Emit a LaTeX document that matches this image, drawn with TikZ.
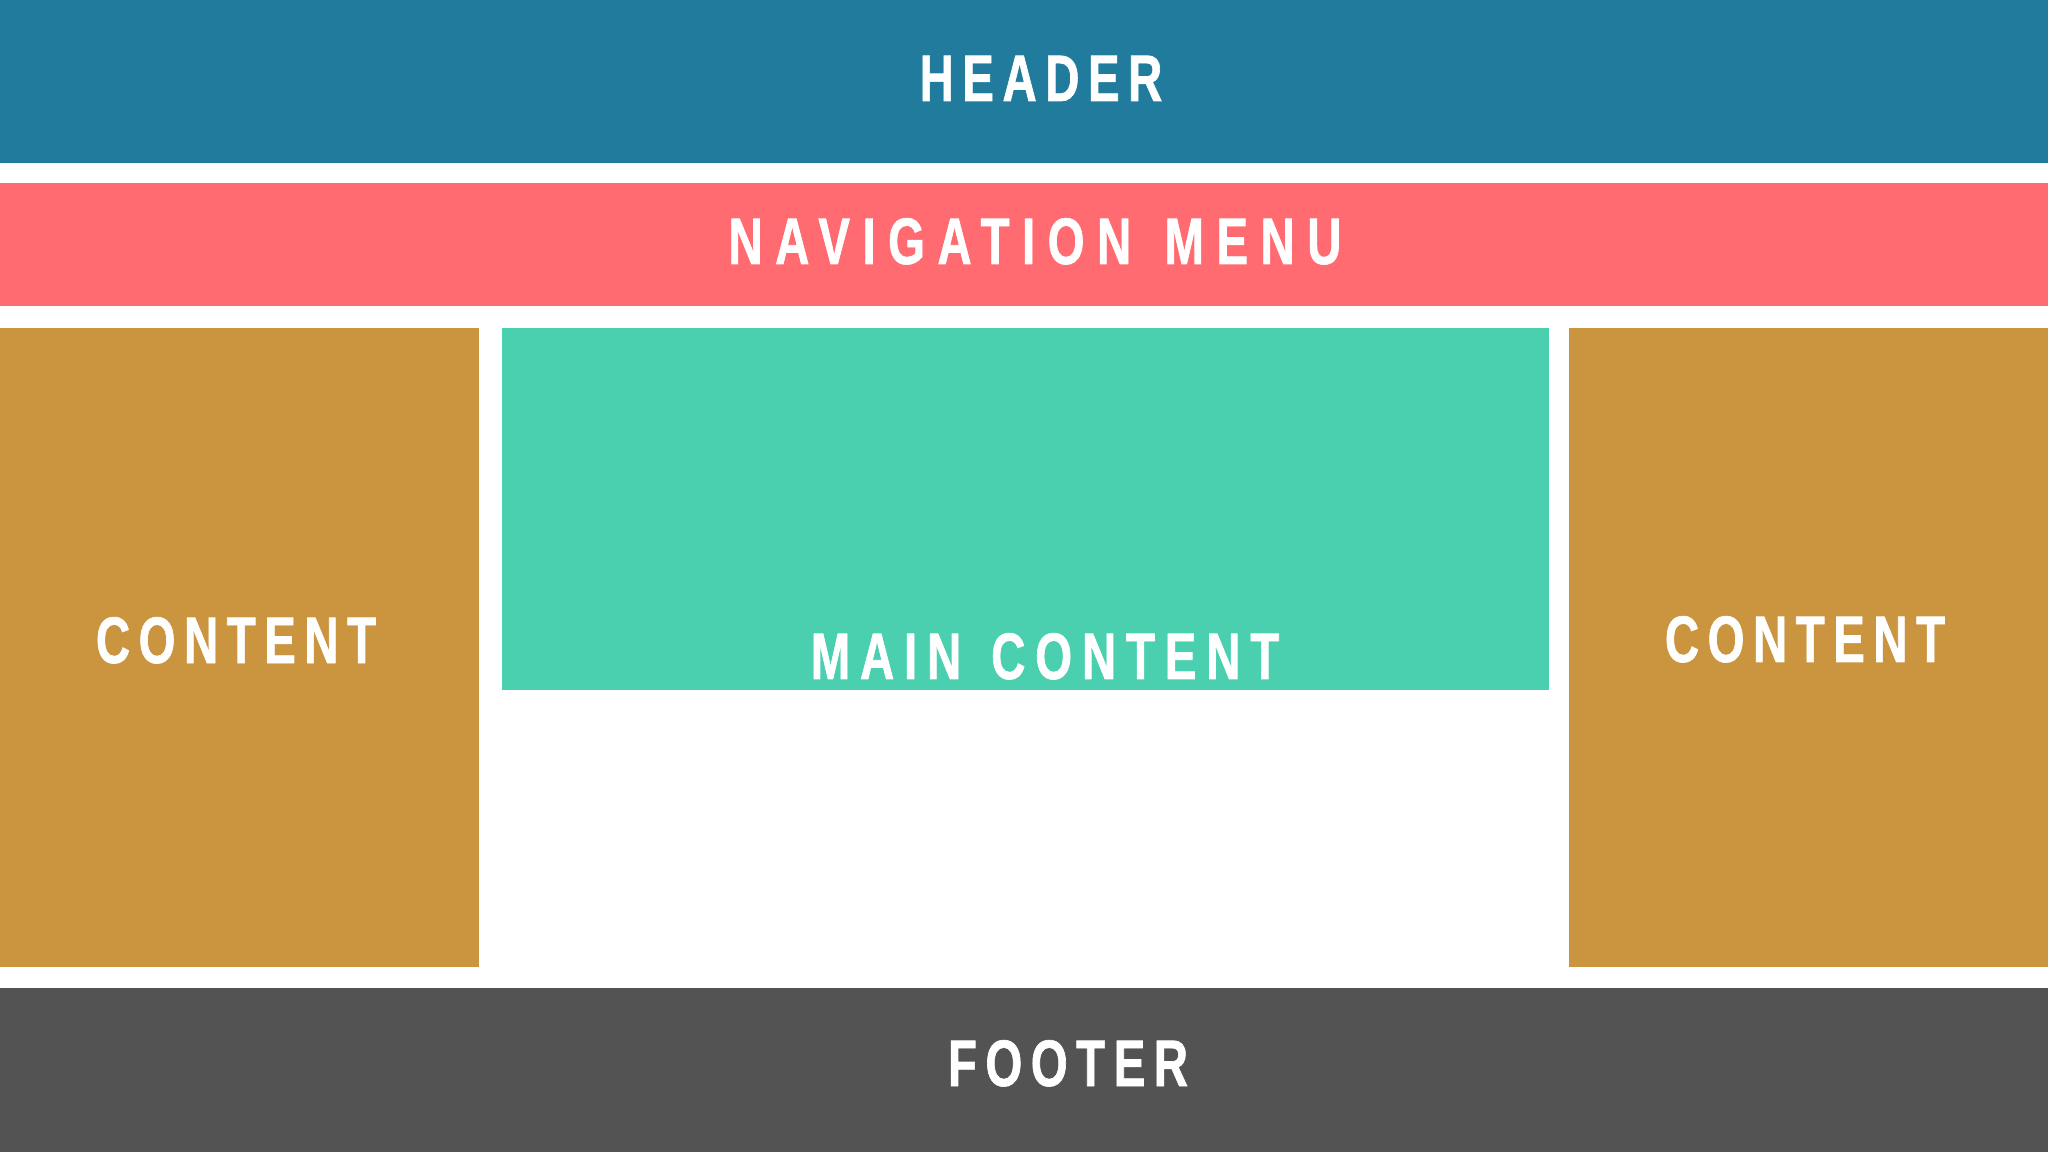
\documentclass[tikz,border=0pt]{standalone}
\usepackage{fontspec}
\usepackage{xcolor}
\newfontfamily\layoutfont{Liberation Sans}[FakeStretch=0.72,LetterSpace=13,WordSpace=1.3,FakeBold=1]
\definecolor{headerblue}{HTML}{217B9D}
\definecolor{navred}{HTML}{FF6B70}
\definecolor{sidegold}{HTML}{CB943F}
\definecolor{mainteal}{HTML}{4ACFAF}
\definecolor{footergray}{HTML}{535353}
\tikzset{
  block/.style={rectangle,inner sep=0,outer sep=0,anchor=north west},
  title/.style={text=white,inner sep=0,anchor=base,font=\layoutfont\bfseries\fontsize{18.7}{20}\selectfont}
}

\begin{document}
\begin{tikzpicture}[x=0.01cm,y=-0.01cm]
\useasboundingbox[fill=white] (0,0) rectangle (2048,1152);
% page blocks
\node[block,fill=headerblue,minimum width=20.48cm,minimum height=1.63cm] (header) at (0,0) {};
\node[block,fill=navred,minimum width=20.48cm,minimum height=1.23cm] (nav) at (0,183) {};
\node[block,fill=sidegold,minimum width=4.79cm,minimum height=6.39cm] (left) at (0,328) {};
\node[block,fill=mainteal,minimum width=10.46cm,minimum height=3.62cm] (main) at (502,328) {};
\node[block,fill=sidegold,minimum width=4.79cm,minimum height=6.39cm] (right) at (1569,328) {};
\node[block,fill=footergray,minimum width=20.48cm,minimum height=1.64cm] (footer) at (0,988) {};
% labels
\node[title] (headerlbl) at (1041,101) {HEADER};
\node[title] (navlbl) at (1035,264) {\addfontfeature{LetterSpace=19}NAVIGATION MENU};
\node[title] (leftlbl) at (236,663) {CONTENT};
\node[title] (mainlbl) at (1045,679) {\addfontfeature{LetterSpace=15}MAIN CONTENT};
\node[title] (rightlbl) at (1805,662) {CONTENT};
\node[title] (footerlbl) at (1068,1086) {FOOTER};
\end{tikzpicture}
\end{document}
